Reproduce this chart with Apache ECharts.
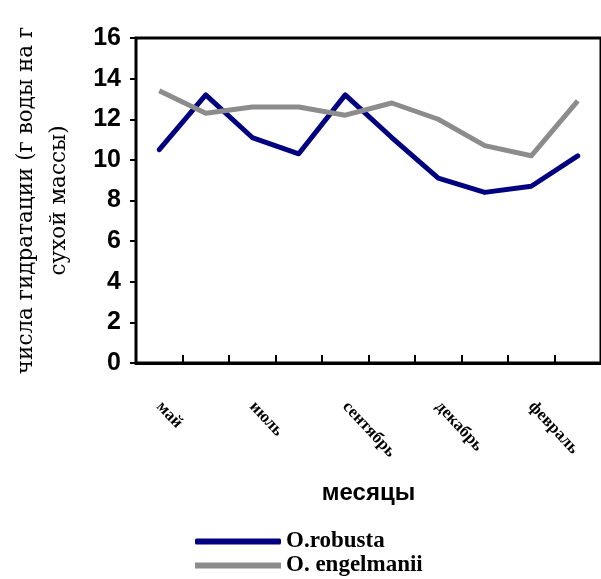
<!DOCTYPE html>
<html>
<head>
<meta charset="utf-8">
<script src="https://cdn.jsdelivr.net/npm/echarts@6/dist/echarts.min.js"></script>
<style>
  html, body { margin: 0; padding: 0; background: #fff; }
  #chart { width: 601px; height: 579px; }
</style>
</head>
<body>
<div id="chart"></div>
<script>
// Months of observation
const months = ['май', 'июнь', 'июль', 'август', 'сентябрь', 'октябрь', 'декабрь', 'январь', 'февраль', 'март'];
// Hydration numbers, g water per g dry mass
const robusta = [10.5, 13.2, 11.1, 10.3, 13.2, 11.1, 9.1, 8.4, 8.7, 10.2];
const engelmanii = [13.4, 12.3, 12.6, 12.6, 12.2, 12.8, 12.0, 10.7, 10.2, 12.9];
const yTicks = { min: 0, max: 16, step: 2 };
const seriesNames = ['O.robusta', 'O. engelmanii'];
const seriesColors = ['#000080', '#8c8c8c'];

const chart = echarts.init(document.getElementById('chart'), null, { renderer: 'canvas' });

// One legend block per entry, stacked under the x-axis title
const legendText = { fontFamily: 'Liberation Serif', fontWeight: 'bold', fontSize: 23, color: '#000', lineHeight: 22 };
const legends = seriesNames.map((name, i) => ({
  left: 195, top: 530 + i * 24, padding: 0,
  itemWidth: 86, itemHeight: 6, itemGap: 0,
  textStyle: legendText,
  data: [{ name: name, icon: i === 0 ? 'roundRect' : 'rect' }]
}));

chart.setOption({
  animation: false,
  backgroundColor: '#ffffff',
  grid: {
    left: 136, top: 38, width: 470, height: 325,
    show: true, borderColor: '#000', borderWidth: 3, backgroundColor: 'transparent'
  },
  legend: legends,
  xAxis: {
    type: 'category',
    data: months,
    boundaryGap: true,
    name: 'месяцы',
    nameLocation: 'middle',
    nameGap: 118,
    nameTextStyle: { fontFamily: 'Liberation Sans', fontWeight: 'bold', fontSize: 24, color: '#000' },
    axisLine: { lineStyle: { color: '#000', width: 3 } },
    axisTick: { show: true, inside: true, length: 8, interval: 0, lineStyle: { color: '#000', width: 2 } },
    axisLabel: {
      interval: 1, rotate: -47, margin: 41,
      fontFamily: 'Liberation Serif', fontWeight: 'bold', fontSize: 17, color: '#000'
    },
    splitLine: { show: false }
  },
  yAxis: {
    type: 'value',
    min: yTicks.min, max: yTicks.max, interval: yTicks.step,
    name: 'числа гидратации (г воды на г\nсухой массы)',
    nameLocation: 'middle',
    nameGap: 60,
    nameTextStyle: { fontFamily: 'DejaVu Serif', fontSize: 21.5, color: '#000', lineHeight: 33, align: 'center' },
    axisLine: { show: true, lineStyle: { color: '#000', width: 2 } },
    axisTick: { show: true, inside: false, length: 6, lineStyle: { color: '#000', width: 2 } },
    axisLabel: { margin: 15, fontFamily: 'Liberation Sans', fontWeight: 'bold', fontSize: 25, color: '#000' },
    splitLine: { show: false }
  },
  series: [
    {
      name: seriesNames[0], type: 'line', data: robusta,
      showSymbol: false, symbol: 'none',
      lineStyle: { color: seriesColors[0], width: 5, cap: 'round', join: 'round' },
      itemStyle: { color: seriesColors[0] }
    },
    {
      name: seriesNames[1], type: 'line', data: engelmanii,
      showSymbol: false, symbol: 'none',
      lineStyle: { color: seriesColors[1], width: 5, join: 'round' },
      itemStyle: { color: seriesColors[1] }
    }
  ]
});
</script>
</body>
</html>
